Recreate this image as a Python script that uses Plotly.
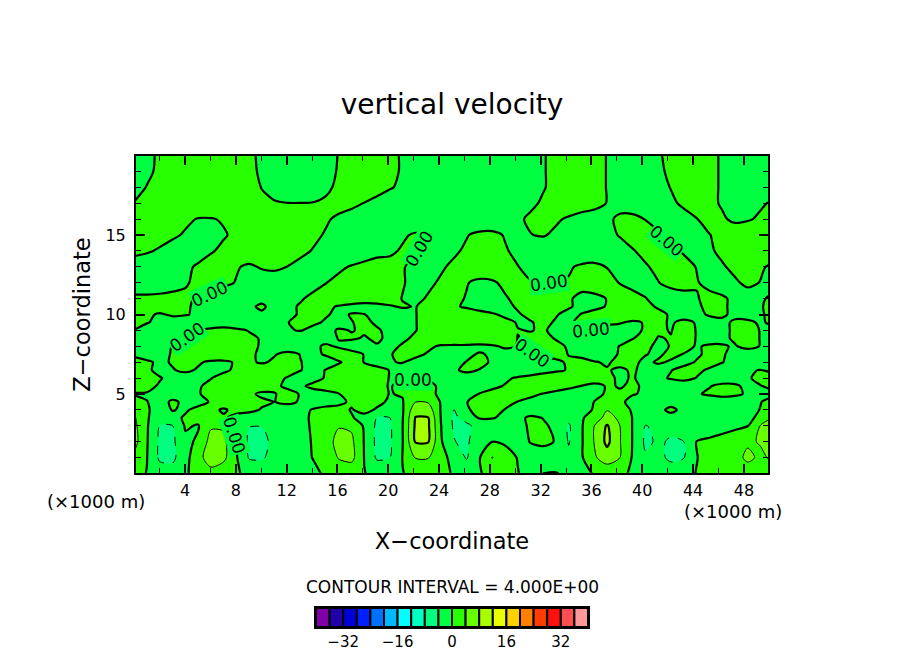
import plotly.graph_objects as go

# grid positions (x in 1000 m, z in 1000 m)
x_km = [0.0, 1.0, 2.01, 3.02, 4.03, 5.03, 6.04, 7.04, 8.05, 9.06, 10.06, 11.07, 12.08, 13.08, 14.09, 15.09, 16.1,
        17.11, 18.11, 19.12, 20.13, 21.13, 22.14, 23.14, 24.15, 25.16, 26.16, 27.17, 28.18, 29.18, 30.19, 31.2, 32.2,
        33.21, 34.21, 35.22, 36.23, 37.23, 38.24, 39.25, 40.25, 41.26, 42.26, 43.27, 44.28, 45.28, 46.29, 47.3, 48.3,
        49.31, 50.31]
z_km = [0, 1, 2, 3, 3.5, 4, 4.5, 5, 5.5, 6, 6.5, 7, 7.5, 8, 8.5, 9, 9.5, 10, 10.5, 11, 12, 13, 14, 15, 16, 17, 18, 19, 20]

# vertical velocity by height, estimated from the contour lines
w_20 = [-1.6,-.6,.4,1.4,2.4,3,3,2.5,1.5,.5,-.5,-1.5,-2.5,-2.9,-1.9,-.9,.1,1.1,2.1,1.7,.7,-.3,-1.3,-2.3,-3,-3,-3,-3,-3,-3,-2.2,-1.2,-.2,.8,1.8,2,1,-.1,-1,-2,-1.3,-.3,.7,1.7,1.7,.7,-.3,-1.3,-2.3,-3,-3]
w_19 = [-1.5,-.5,.5,1.5,2.5,3,3,2.6,1.6,.6,-.4,-1.4,-2.4,-2.8,-1.8,-.8,.2,1.2,2.2,1.7,.7,-.3,-1.3,-2.3,-3,-3,-3,-3,-3,-3,-2.2,-1.2,-.2,.8,1.8,2,1,-.1,-1,-2,-1.5,-.5,.5,1.5,1.7,.7,-.3,-1.3,-2.3,-3,-3]
w_18 = [-.9,.1,1.1,2.1,3,3,3,3,2,1,-.1,-1,-2,-2.5,-1.5,-.5,.5,1.5,2.3,1.3,.3,-.7,-1.7,-2.7,-3,-3,-3,-3,-3,-3,-2.2,-1.2,-.2,.8,1.8,2,1,-.1,-1,-2,-1.9,-.9,.1,1.1,1.7,.7,-.3,-1.3,-2.3,-3,-3]
w_17 = [.1,1,2,3,3,3,3,3,2.5,1.5,.6,.2,.05,.05,.1,.4,1.2,.9,-.1,-1,-2,-3,-3,-3,-3,-3,-3,-3,-3,-2.6,-1.6,-.6,.4,1.4,2.4,2,1,-.1,-1,-2,-2.5,-1.5,-.5,.5,1.5,.7,-.3,-1.3,-1.5,-.5,.5]
w_16 = [3,3,2.7,1.7,.7,-.2,-.2,.3,1.3,2.3,3,3,3,2.4,1.4,.4,-.6,-1.6,-2.6,-3,-3,-3,-3,-3,-3,-3,-3,-3,-2.5,-1.5,-.5,.5,1.5,.5,-.5,-1.5,-1.5,-.5,.5,.9,-.1,-1.1,-2,-1,-.1,1,.4,-.6,-.4,.6,1.6]
w_15 = [3,2.6,1.6,.6,-.4,-1.4,-1.3,-.3,.7,1.7,2.7,3,2.7,1.7,.7,-.3,-1.3,-2.3,-3,-2.5,-1.5,-.5,.5,.3,-.7,-1.2,-.2,.8,.8,-.2,-1,-.1,.3,-.7,-1.7,-2.7,-1.8,-.8,.2,1.2,1.4,.4,-.6,-1.6,-1.1,-.1,.9,1.9,2.9,3,3]
w_14 = [1.5,.5,-.5,-1.5,-2.3,-1.3,-.3,.7,1.7,2.7,3,2.8,1.8,.8,-.2,-1.2,-2.2,-3,-2.6,-1.6,-.6,.4,.4,-.6,-1.5,-.5,.5,1.5,1.3,.3,-.7,-1.7,-2.7,-3,-3,-3,-3,-2.2,-1.2,-.2,.8,1.7,.7,-.3,-1.3,-.4,.6,1.6,2.6,3,3]
w_13 = [-3,-3,-2.6,-1.6,-.6,.4,1.4,1.3,.3,-.6,.4,1,-.1,-1,-2,-1.7,-.7,.3,1.3,2.2,1.2,.2,-.8,-1.4,-.4,.6,1.6,2.6,2.1,1.1,.1,-.9,-1.9,-1.4,-.4,.6,1,-.1,-1,-1.3,-.3,.7,1.7,.9,-.1,-1.1,-.3,.7,1.4,.4,-.6]
w_12 = [-3,-3,-2.3,-1.3,-.3,.7,1.8,.8,-.2,-1.2,-2.2,-3,-3,-2,-1,-.1,1,2,3,2.2,1.2,.2,-.8,-.6,.4,1.2,.2,-.8,-.4,.6,.3,.2,.2,.2,.3,1,2,1,-.1,-1,-1,-.1,1,1.2,.2,-.8,-1.4,-.4,.6,-.1,-1.1]
w_11 = [1,1,1,1,.6,-.4,-1.4,-2.4,-3,-.5,-.5,-2.3,-1.3,-.3,.7,1.7,2.7,3,3,2,1,-.1,-.7,.3,1.3,.8,-.2,-1.2,-1.3,-.3,.7,1.7,2.3,1.3,.3,-.7,-.9,.1,1.1,1.1,.1,-.9,-1.9,-1.2,-.2,.8,.4,-.6,-1.4,-.4,.6]
w_105 = [1.5,1.5,2,1.4,.4,-.6,-1.6,-2.3,-1.3,-.3,.3,-.7,-.7,.3,1.3,.7,-.3,-1.3,-2.2,-1.2,-.2,.2,-.1,.9,1.5,.5,-.5,-1.5,-1.7,-.7,.3,1.3,2.3,1.3,.3,-.7,-.8,.2,1.2,1.7,.7,-.3,-1.3,-1.4,-.4,.6,.4,-.6,-1.2,-.2,.8]
w_10 = [1.6,.6,-.4,.5,.3,-.7,-1.7,-2.7,-3,-.3,-.3,-1.7,-.7,.3,1.3,.3,-.7,.2,.1,-1,-2,-1,-.1,1,2,3,2.4,1.4,.4,-.6,-.3,.7,1.2,.2,-.8,.1,1.1,2.1,3,2.7,1.7,.7,-.3,-1.3,-.7,.3,.4,-.6,-1.3,-.3,.7]
w_95 = [1.2,.2,-.8,-1.8,-2.8,-3,-3,-3,-3,-3,-2,-1,-.1,1,.6,-.4,-1.1,-.1,.6,-.4,-1.4,-1,-.1,1,2,3,3,2.9,1.9,.9,-.2,-.2,.7,-.3,-.4,.6,1.6,1.3,.3,-.7,.3,.6,-.3,.7,-.2,-1.2,-.6,.4,.6,-.4,.6]
w_9 = [-.1,-1.5,-3,-2,-1,-.1,1,1.8,.8,-.2,-1.2,-1.3,-.3,.2,-1,-.9,.3,-.1,.3,.3,-.7,-1,-.1,1,2,3,3,3,2.1,1.1,.1,-.1,.3,-.7,-1.7,-2.7,-3,-2.7,-1.7,-.7,.3,.3,-.1,1,-.1,-1,-.6,.4,.9,-.1,-1.1]
w_85 = [-1.5,-2,-2.1,-1.1,-.1,.9,1.9,2.7,1.7,.7,-.3,-1.3,-2.3,-3,-2,-1,.1,.3,-.2,.4,-.6,-.5,.5,1.5,2.5,3,3,3,3,3,-.1,.5,.8,-.2,-1.2,-2.2,-3,-2.1,-1.1,-.1,.9,-.1,.1,1,-.1,-1,-.6,.4,1,-.1,-1]
w_8 = [-1.5,-1.95,-.95,.1,1,2,3,2.7,1.7,.7,-.3,-1.3,-2.3,-1.6,-.6,.4,-.3,-1.3,-.2,-.2,-.7,.3,1.3,.6,-.4,-.6,-.6,-1,-.5,.5,-.1,.4,1.4,.7,-.3,-1.3,-1.9,-.9,.1,1.1,.5,-.5,.1,.8,-.2,.3,.2,-.2,.8,-.1,-1]
w_75 = [-.5,-1.8,-.8,.2,1.2,2.2,3,2.7,1.7,.7,-.7,-.2,1,-.1,-.7,.3,1.3,1,-.1,-1,-.2,.8,.7,-.3,-1.3,-1.7,-.7,.3,-.4,-1.4,-1.3,-.3,.7,1,-.1,-1,-1.8,-.8,.2,1.1,.1,-.4,.6,-.1,-.4,.6,.25,-.75,-1.7,-2,-2]
w_7 = [1,.6,-.7,.3,1.3,.4,-.6,-.65,.35,.55,-.4,.6,1.1,.1,-.9,-1.25,-.25,.9,-.1,-1.1,-.1,.1,-.9,-1.9,-1.9,-.9,.1,.7,-.3,-1.3,-2.3,-2.6,-1.6,-.6,.4,1.2,.2,-.3,.7,.5,-.5,.3,-.3,-.8,.2,1.1,.1,-.9,-1.9,-2.9,-3]
w_65 = [1.5,.5,-.8,-.2,.65,-.35,-1.5,-.5,.5,1.5,2.5,2.1,1.1,.1,-.9,.1,1.1,2.1,1.9,.9,-.1,-1.1,-2.1,-2.4,-1.4,-.4,.6,-.1,-1,-2,-3,-2.7,-1.7,-.7,.3,1.3,1.2,.2,-.4,.3,-.7,-1.1,-.1,.9,.6,-.4,-1.4,-1.3,-.3,.1,-.9]
w_6 = [1.5,1.2,.2,-.8,-1.8,-1,-.1,1,2,2.8,1.8,.8,-.2,-1.2,-.8,.2,1.2,2.2,1.9,.9,-.1,-.3,-.3,-.3,-.3,-1,-1.5,-2,-1.6,-.6,.4,1.4,2.4,3,3,2.6,1.6,.6,-.4,.2,-.8,-.7,.3,1,-.1,-1,-2,-1.3,-.3,.7,1.7]
w_55 = [1,.7,-.3,-1.3,-1.3,-.3,.7,1.7,2.7,2.5,1.5,.5,-.5,-.4,.6,1.6,2.6,2.9,1.9,.9,-.2,.8,1.6,.6,-.4,-1.4,-2.4,-1.8,-.8,.2,1.2,2.2,3,2,1,-.1,-.8,.2,-.1,.2,-.2,-1.2,-2.2,-2.2,-1.2,-.2,.8,.4,-.6,-.1,.6]
w_5 = [-.2,-.2,-1.5,-.8,-1.2,-.2,.8,1.8,1.5,.5,-.5,-.1,.8,-.15,-1.1,-1.1,-.1,.9,1.9,.9,-.1,.2,2,.6,-.4,-1.4,-.9,.1,1.1,2.1,1.8,.8,-.2,-1.2,-2,-1.7,-.7,.3,.2,.1,-.2,-1.2,-2.2,-1.4,-.4,.6,1.6,.6,-.4,-1.4,-.5]
w_45 = [1,.05,-.7,.3,-.35,-.8,.2,1.2,2.2,1.5,.5,-.05,.7,-.3,-1.3,-1.6,-.6,.4,1.4,.6,-.4,-.2,3.9,3.7,-.3,-1,-.1,1,2,1,-.1,-1,-2,-3,-1.95,-.95,.05,2,.4,-.6,-1.6,-2.6,-1,-3,-3,-3,-3,-2,-1,-.1,1]
w_4 = [3.5,.25,-.9,.1,-.3,.7,.6,-.3,.7,.75,-.25,-1.25,-1.8,-.8,.2,1.2,.85,-.15,.7,-.3,-1.3,-.4,6.5,6.2,-.3,-4.2,-.3,.7,1,-.1,-1,-2,-3,-2.8,-1.8,-.8,.2,3.9,.8,-.2,-1.2,-.7,.6,-.7,-1.7,-2.7,-2.9,-1.9,-.9,.1,3.5]
w_35 = [4.5,.3,-1.7,-.7,.3,1.3,2.3,.3,-.7,-1.7,-2.7,-3,-1.65,-.65,.35,1.35,2.35,.2,-.8,-4.2,-4,-.2,8.2,8.15,-.15,-4.6,-3,.3,.3,-.9,-.9,.6,-.1,-1,-3,-.6,2.5,5,3.5,-.2,-1.2,-2.2,-1,-3,-3,-3,-2.5,-1.5,-.5,.5,4.5]
w_3 = [5,.4,-4.05,-4.05,.4,-.25,3.5,3.5,-.5,-3.9,-3.9,-2.7,-1.7,-.7,.3,1.3,3.7,3.4,-.5,-4.8,-4.5,-.05,8.6,8.6,.1,-4.5,-4.6,-3,-2.7,-1.7,-.7,.3,.4,-.6,-4.5,-.4,4,8.4,4,-.2,-4.2,-3,-3,-3,-3,-3,-2.1,-1.1,-.1,4.2,5.5]
w_2 = [5.5,.3,-4.7,-4.8,-.8,.5,5.5,5,-.1,-4.8,-5,-3,-1.9,-.9,.2,2,5.5,4.8,-.2,-5,-4.6,-.1,8.3,8.3,.4,-3.8,-5,-.3,-.05,-.3,-1,.1,.8,-.2,-4.3,-.4,4.2,9,4.2,-.2,-4.7,-3.5,-4.4,-4,.1,1,2,3,3.6,4.2,5.5]
w_1 = [3,.1,-4.7,-4.8,-1.5,3,5.5,5,.3,-4.4,-4.4,-2.7,-2,-1,.1,1.2,4.3,5.2,-.1,-4.6,-4,.1,4.2,4.2,.5,-.5,-4.4,-.3,4.2,1,-.1,-1,-2,-2.4,-3,-.4,3.5,6,4,-.4,-3.5,-3,-4.8,-4.2,-.1,1,2,3,4.6,3.5,4.5]
w_0 = [1,-.1,-2,-2.5,-.25,.75,3,1.3,.3,-.7,-1.7,-2.7,-2.6,-1.6,-.6,.4,1.4,1.1,.1,-.9,-1.1,-.1,.9,1.9,.75,-.25,-1.2,-.2,.8,1.1,.1,-.9,.05,.2,-.9,-.8,.2,1.2,.6,-.4,-1.4,-2.4,-1.9,-.9,.1,1.1,2.1,3,2.5,3,3]

w = [w_0, w_1, w_2, w_3, w_35, w_4, w_45, w_5, w_55, w_6, w_65, w_7, w_75, w_8, w_85, w_9, w_95, w_10, w_105, w_11,
     w_12, w_13, w_14, w_15, w_16, w_17, w_18, w_19, w_20]
for z_val, row in zip(z_km, w):
    assert len(row) == len(x_km), (z_val, len(row))

# colour key
key_levels = [-38, -34, -30, -26, -22, -18, -14, -10, -6, -2, 2, 6, 10, 14, 18, 22, 26, 30, 34, 38]
key_colors = ['#8000a8', '#2000a8', '#0000d8', '#0020ff', '#0070ff', '#00b8ff', '#00ffff', '#00ffc0', '#00ff80', '#00ff40',
              '#28ff00', '#68ff00', '#a8ff00', '#e8ff00', '#ffd000', '#ff8000', '#ff3c00', '#ff1010', '#ff5050', '#ff9898']
key_ticks = [-32, -16, 0, 16, 32]
key_labels = ['−32', '−16', '0', '16', '32']

x_ticks = [4, 8, 12, 16, 20, 24, 28, 32, 36, 40, 44, 48]
z_ticks = [5, 10, 15]

# contour labels along the zero line: x, z, angle
label_x = [5.97, 4.16, 22.42, 32.66, 35.97, 31.32, 21.95, 41.95, 7.86]
label_z = [11.26, 8.6, 14.15, 12.0, 9.05, 7.55, 5.85, 14.65, 2.4]
label_angle = [-25, -35, -60, -8, -5, 35, 0, 40, 72]

FONT = 'DejaVu Sans'
W, H = 904, 654

colorscale = []
for i, c in enumerate(key_colors):
    colorscale.append([i / 20, c])
    colorscale.append([(i + 1) / 20, c])

fig = go.Figure()

# filled bands
fig.add_trace(go.Contour(
    x=x_km, y=z_km, z=w,
    zmin=-40, zmax=40,
    colorscale=colorscale,
    showscale=False,
    contours=dict(start=-40, end=40, size=4, coloring='fill', showlines=False),
    line=dict(width=0),
    hoverinfo='skip',
))

# line styles differ per level so each gets its own trace
for level, width, dash in [(-4, 1, 'dash'), (0, 2.2, 'solid'), (4, 1, 'solid'), (8, 2.2, 'solid')]:
    fig.add_trace(go.Contour(
        x=x_km, y=z_km, z=w,
        showscale=False,
        contours=dict(start=level, end=level, size=4, coloring='none'),
        line=dict(color='black', width=width, dash=dash, smoothing=0.8),
        hoverinfo='skip',
    ))

# colour key as bars
fig.add_trace(go.Bar(
    x=key_levels, y=[1] * len(key_levels), width=4,
    marker=dict(color=key_colors, line=dict(color='black', width=2)),
    xaxis='x2', yaxis='y2',
    hoverinfo='skip',
))

fig.update_layout(
    width=W, height=H,
    margin=dict(l=0, r=0, t=0, b=0),
    paper_bgcolor='white',
    plot_bgcolor='white',
    showlegend=False,
    font=dict(family=FONT, color='black', size=15),
    title=dict(text='vertical velocity', x=452 / W, xanchor='center', y=1 - 104 / H, yanchor='middle',
               font=dict(size=28, family=FONT)),
    xaxis=dict(
        domain=[136 / W, 768 / W], range=[0.14, 49.9],
        tickmode='array', tickvals=x_ticks, ticks='inside', ticklen=9, tickwidth=1.5, tickcolor='black',
        minor=dict(tickmode='array', tickvals=[2, 6, 10, 14, 18, 22, 26, 30, 34, 38, 42, 46], ticks='inside', ticklen=5,
                   tickwidth=1, tickcolor='black'),
        showline=True, linecolor='black', linewidth=2, mirror='ticks', showgrid=False, zeroline=False,
        tickfont=dict(size=16), ticklabelstandoff=2,
        title=dict(text='X−coordinate', font=dict(size=22.5), standoff=34),
    ),
    yaxis=dict(
        domain=[1 - 473 / H, 1 - 156 / H], range=[0.03, 19.97],
        tickmode='array', tickvals=z_ticks, ticks='inside', ticklen=9, tickwidth=1.5, tickcolor='black',
        minor=dict(tickmode='array', tickvals=[1, 2, 3, 4, 6, 7, 8, 9, 11, 12, 13, 14, 16, 17, 18, 19], ticks='inside',
                   ticklen=5, tickwidth=1, tickcolor='black'),
        showline=True, linecolor='black', linewidth=2, mirror='ticks', showgrid=False, zeroline=False,
        tickfont=dict(size=16), ticklabelstandoff=5,
        title=dict(text='Z−coordinate', font=dict(size=22.5), standoff=9),
    ),
    xaxis2=dict(
        domain=[316 / W, 588 / W], range=[-40, 40], anchor='y2',
        tickmode='array', tickvals=key_ticks, ticktext=key_labels, ticks='', showgrid=False, zeroline=False,
        showline=True, linecolor='black', linewidth=2, mirror=True, tickfont=dict(size=15),
    ),
    yaxis2=dict(
        domain=[1 - 627 / H, 1 - 608 / H], range=[0, 1], anchor='x2',
        showticklabels=False, ticks='', showgrid=False, zeroline=False,
        showline=True, linecolor='black', linewidth=2, mirror=True,
    ),
)

for lx, lz, ang in zip(label_x, label_z, label_angle):
    fig.add_annotation(x=lx, y=lz, text='0.00', textangle=ang, showarrow=False, font=dict(size=17), borderpad=0,
                       bgcolor='#00ff40')

# pixel-placed captions, anchored on their centres
for cx, cy, text, size in [(96, 501, '(×1000 m)', 18), (733, 511, '(×1000 m)', 18),
                           (452, 587, 'CONTOUR INTERVAL = 4.000E+00', 17)]:
    fig.add_annotation(xref='paper', yref='paper', x=cx / W, y=1 - cy / H, text=text, showarrow=False,
                       xanchor='center', yanchor='middle', font=dict(size=size))

# the page's default body margin would shift everything by 8px
fig.write_html("out.html", config={'displayModeBar': False}, post_script="document.body.style.margin='0';")
